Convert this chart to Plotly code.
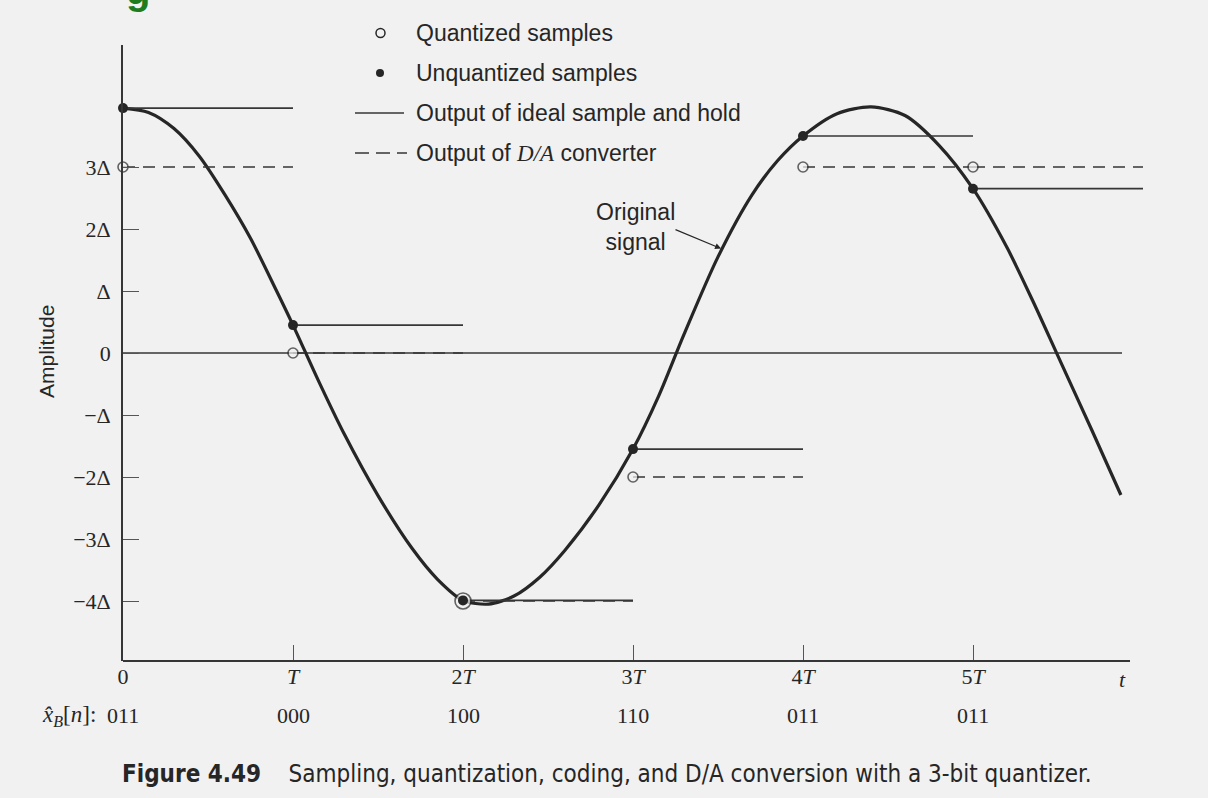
import plotly.graph_objects as go

# Sample instants (units of T) and amplitudes (units of Δ)
sample_t = [0, 1, 2, 3, 4, 5]
unquantized = [3.95, 0.45, -3.99, -1.55, 3.5, 2.65]
quantized = [3, 0, -4, -2, 3, 3]
codes = ["011", "000", "100", "110", "011", "011"]

# Original continuous-time signal, read at these instants
signal_t = [0.0, 0.15, 0.3, 0.45, 0.6, 0.75, 0.9, 1.0, 1.15, 1.3, 1.5, 1.7,
            1.85, 2.0, 2.15, 2.3, 2.45, 2.6, 2.8, 3.0, 3.15, 3.3, 3.5, 3.7,
            3.85, 4.0, 4.2, 4.4, 4.6, 4.8, 5.0, 5.2, 5.35, 5.5, 5.7, 5.87]
signal_v = [3.95, 3.88, 3.62, 3.17, 2.55, 1.85, 1.02, 0.45, -0.45, -1.3,
            -2.3, -3.15, -3.65, -3.99, -4.05, -3.92, -3.62, -3.18, -2.45,
            -1.55, -0.7, 0.3, 1.55, 2.55, 3.1, 3.5, 3.86, 3.97, 3.83, 3.35,
            2.65, 1.7, 0.85, -0.05, -1.25, -2.29]

y_tickvals = [3, 2, 1, 0, -1, -2, -3, -4]
y_ticktext = ["3Δ", "2Δ", "Δ", "0", "−Δ", "−2Δ", "−3Δ", "−4Δ"]
x_tickvals = [0, 1, 2, 3, 4, 5]
x_ticktext = ["0", "<i>T</i>", "2<i>T</i>", "3<i>T</i>", "4<i>T</i>", "5<i>T</i>"]

W, H = 1208, 798
L, R, TOP, BOT = 123, 1145, 45, 661          # plot area in px
PX_PER_T, PX_PER_D = 170.0, 62.0
ZERO_Y = 353

BG = "#f1f1f1"
INK = "#262626"
LINE = "#363636"
SERIF = "Liberation Serif, Times New Roman, serif"
SANS = "Liberation Sans, Arial, sans-serif"
NARROW = "Liberation Sans Narrow, DejaVu Sans Condensed, sans-serif"


def px_x(px):
    return (px - L) / (R - L)


def px_y(py):
    return (BOT - py) / (BOT - TOP)


x_range = [0, (R - L) / PX_PER_T]
y_range = [(ZERO_Y - BOT) / PX_PER_D, (ZERO_Y - TOP) / PX_PER_D]

fig = go.Figure()

# original signal
fig.add_trace(go.Scatter(
    x=signal_t, y=signal_v, mode="lines",
    line=dict(color=INK, width=3.2, shape="spline", smoothing=0.8),
    hoverinfo="skip"))

# ideal sample-and-hold output and D/A output, held for one period
hold_x, hold_y, da_x, da_y = [], [], [], []
for t, u, q in zip(sample_t, unquantized, quantized):
    hold_x += [t, t + 1, None]
    hold_y += [u, u, None]
    da_x += [t, t + 1, None]
    da_y += [q, q, None]

fig.add_trace(go.Scatter(
    x=da_x, y=da_y, mode="lines",
    line=dict(color=LINE, width=1.6, dash="12px,8px"), hoverinfo="skip"))
fig.add_trace(go.Scatter(
    x=hold_x, y=hold_y, mode="lines",
    line=dict(color=LINE, width=1.7), hoverinfo="skip"))

# quantized samples (open circles; larger where they enclose the unquantized dot)
q_sizes = [16 if abs(u - q) < 0.1 else 10 for u, q in zip(unquantized, quantized)]
fig.add_trace(go.Scatter(
    x=sample_t, y=quantized, mode="markers", cliponaxis=False,
    marker=dict(symbol="circle", size=q_sizes, color=BG,
                line=dict(color=INK, width=1.6)),
    hoverinfo="skip"))
# unquantized samples
fig.add_trace(go.Scatter(
    x=sample_t, y=unquantized, mode="markers", cliponaxis=False,
    marker=dict(symbol="circle", size=10, color=INK, line=dict(width=0)),
    hoverinfo="skip"))

shapes = []
# zero-amplitude reference line
shapes.append(dict(type="line", xref="x", yref="y", x0=0, x1=(1122 - L) / PX_PER_T,
                   y0=0, y1=0, line=dict(color=LINE, width=1.6), layer="below"))
# time axis
shapes.append(dict(type="line", xref="paper", yref="paper", x0=0, x1=px_x(1130),
                   y0=0, y1=0, line=dict(color=LINE, width=1.8)))

# legend glyphs
shapes.append(dict(type="circle", xref="paper", yref="paper",
                   x0=px_x(376), x1=px_x(385), y0=px_y(37.5), y1=px_y(28.5),
                   line=dict(color=INK, width=1.5), fillcolor=BG))
shapes.append(dict(type="circle", xref="paper", yref="paper",
                   x0=px_x(376), x1=px_x(384), y0=px_y(77), y1=px_y(69),
                   line=dict(color=INK, width=0), fillcolor=INK))
shapes.append(dict(type="line", xref="paper", yref="paper",
                   x0=px_x(355), x1=px_x(404), y0=px_y(113), y1=px_y(113),
                   line=dict(color=LINE, width=1.6)))
shapes.append(dict(type="line", xref="paper", yref="paper",
                   x0=px_x(355), x1=px_x(407), y0=px_y(153), y1=px_y(153),
                   line=dict(color=LINE, width=1.6, dash="14px,7px")))

annotations = []
legend_rows = [
    ("Quantized samples", 33),
    ("Unquantized samples", 73),
    ("Output of ideal sample and hold", 113),
    ("Output of <span style=\"font-family:'Liberation Serif';font-style:italic\">D/A</span> converter", 153),
]
for text, py in legend_rows:
    annotations.append(dict(
        x=px_x(414), y=px_y(py), xref="paper", yref="paper", text=text,
        showarrow=False, xanchor="left", yanchor="middle",
        font=dict(family=SANS, size=23, color=INK)))

# signal label with arrow
annotations.append(dict(
    x=(722 - L) / PX_PER_T, y=(ZERO_Y - 249) / PX_PER_D, xref="x", yref="y",
    text="", showarrow=True, ax=-48, ay=-20, arrowhead=2, arrowsize=1.1,
    arrowwidth=1.1, arrowcolor=INK, standoff=1))
annotations.append(dict(
    x=px_x(635), y=px_y(227), xref="paper", yref="paper",
    text="Original<br>signal", showarrow=False, align="center",
    xanchor="center", yanchor="middle",
    font=dict(family=SANS, size=23, color=INK)))

# y-axis title
annotations.append(dict(
    x=px_x(46), y=px_y(352), xref="paper", yref="paper", text="Amplitude",
    showarrow=False, textangle=-90, xanchor="center", yanchor="middle",
    font=dict(family=SANS, size=21, color=INK)))

# time label at the end of the axis
annotations.append(dict(
    x=(1122 - L) / PX_PER_T, y=px_y(679), xref="x", yref="paper", text="<i>t</i>",
    showarrow=False, xanchor="center", yanchor="middle",
    font=dict(family=SERIF, size=22, color=INK)))

# binary codewords
annotations.append(dict(
    x=px_x(98), y=px_y(716), xref="paper", yref="paper",
    text="<i>x̂</i><sub><i>B</i></sub>[<i>n</i>]:", showarrow=False,
    xanchor="right", yanchor="middle",
    font=dict(family=SERIF, size=23, color=INK)))
for t, c in zip(sample_t, codes):
    annotations.append(dict(
        x=t, y=px_y(716), xref="x", yref="paper", text=c, showarrow=False,
        xanchor="center", yanchor="middle",
        font=dict(family=SERIF, size=22, color=INK)))

# caption
annotations.append(dict(
    x=px_x(120), y=px_y(774), xref="paper", yref="paper",
    text="<b>Figure 4.49</b>    Sampling, quantization, coding, and D/A conversion with a 3-bit quantizer.",
    showarrow=False, xanchor="left", yanchor="middle",
    font=dict(family=NARROW, size=24, color=INK)))

# heading fragment at the top edge
annotations.append(dict(
    x=px_x(138), y=px_y(14), xref="paper", yref="paper", text="<b>g</b>",
    showarrow=False, xanchor="center", yanchor="bottom",
    font=dict(family=SANS, size=40, color="#1e7b1e")))

fig.update_layout(
    width=W, height=H,
    margin=dict(l=L, r=W - R, t=TOP, b=H - BOT, pad=0),
    paper_bgcolor=BG, plot_bgcolor=BG,
    showlegend=False,
    shapes=shapes, annotations=annotations,
    xaxis=dict(range=x_range, tickvals=x_tickvals, ticktext=x_ticktext,
               showline=False, showgrid=False, zeroline=False,
               ticks="inside", ticklen=16, tickwidth=1.3, tickcolor="#555",
               tickfont=dict(family=SERIF, size=22, color=INK),
               fixedrange=True),
    yaxis=dict(range=y_range, tickvals=y_tickvals, ticktext=y_ticktext,
               showline=True, linecolor=LINE, linewidth=1.8,
               showgrid=False, zeroline=False,
               ticks="inside", ticklen=16, tickwidth=1.3, tickcolor="#555",
               ticklabelstandoff=6,
               tickfont=dict(family=SERIF, size=22, color=INK),
               fixedrange=True),
)

fig.write_html("out.html")
